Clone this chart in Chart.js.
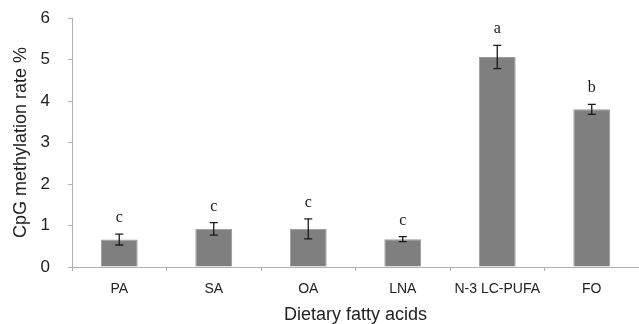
<!DOCTYPE html>
<html><head><meta charset="utf-8">
<script src="https://cdn.jsdelivr.net/npm/chart.js@4/dist/chart.umd.min.js"></script>
<style>html,body{margin:0;padding:0;background:#fff}#wrap{width:639px;height:324px}</style>
</head><body><div id="wrap"><canvas id="c" width="639" height="324"></canvas></div>
<script>
const categories = ["PA", "SA", "OA", "LNA", "N-3 LC-PUFA", "FO"];
const values = [0.66, 0.92, 0.92, 0.67, 5.06, 3.80];
const errors = [0.13, 0.15, 0.24, 0.06, 0.28, 0.12];
const letters = ["c", "c", "c", "c", "a", "b"];
const yTicks = [0, 1, 2, 3, 4, 5, 6];

const overlay = {
  id: 'overlay',
  afterDatasetsDraw(chart) {
    const ctx = chart.ctx, x = chart.scales.x, y = chart.scales.y;
    ctx.save();
    values.forEach((v, i) => {
      const cx = x.getPixelForValue(i);
      const top = y.getPixelForValue(v + errors[i]);
      const bot = y.getPixelForValue(v - errors[i]);
      ctx.strokeStyle = '#1a1a1a';
      ctx.lineWidth = 1.3;
      ctx.beginPath();
      ctx.moveTo(cx, top); ctx.lineTo(cx, bot);
      ctx.moveTo(cx - 4, top); ctx.lineTo(cx + 4, top);
      ctx.moveTo(cx - 4, bot); ctx.lineTo(cx + 4, bot);
      ctx.stroke();
      ctx.fillStyle = '#1a1a1a';
      ctx.font = '16px "Liberation Serif"';
      ctx.textAlign = 'center';
      ctx.textBaseline = 'alphabetic';
      ctx.fillText(letters[i], cx, top - 12);
    });
    ctx.restore();
  }
};

new Chart(document.getElementById('c'), {
  type: 'bar',
  data: {
    labels: categories,
    datasets: [{
      data: values,
      backgroundColor: '#7f7f7f',
      borderColor: '#9a9a9a',
      borderWidth: 1,
      categoryPercentage: 1,
      barPercentage: 0.39
    }]
  },
  options: {
    responsive: false,
    animation: false,
    devicePixelRatio: 1,
    layout: { padding: { left: 0, right: 0, top: 18, bottom: 0 } },
    plugins: { legend: { display: false }, tooltip: { enabled: false } },
    scales: {
      x: {
        grid: { display: true, drawOnChartArea: false, drawTicks: true, tickLength: 4, color: '#b0b0b0', offset: true },
        border: { color: '#b0b0b0', width: 1 },
        ticks: { color: '#222', font: { family: '"Liberation Sans", Arial', size: 14 }, padding: 10, maxRotation: 0 },
        title: { display: true, text: 'Dietary fatty acids', color: '#222', font: { family: '"Liberation Sans", Arial', size: 18 }, padding: { top: 4, bottom: -2 } },
        afterFit(s) { s.height = 57; s.paddingLeft = 0; s.paddingRight = 0; }
      },
      y: {
        min: 0, max: 6,
        afterBuildTicks(s) { s.ticks = yTicks.map(v => ({ value: v })); },
        grid: { display: true, drawOnChartArea: false, drawTicks: true, tickLength: 4, color: '#b0b0b0' },
        border: { color: '#b0b0b0', width: 1 },
        ticks: { color: '#222', font: { family: '"Liberation Sans", Arial', size: 17 }, padding: 18 },
        title: { display: true, text: 'CpG methylation rate %', color: '#222', font: { family: '"Liberation Sans", Arial', size: 18 }, padding: { top: 10, bottom: 0 } },
        afterFit(s) { s.width = 72; s.paddingTop = 0; s.paddingBottom = 0; }
      }
    }
  },
  plugins: [overlay]
});
</script></body></html>
